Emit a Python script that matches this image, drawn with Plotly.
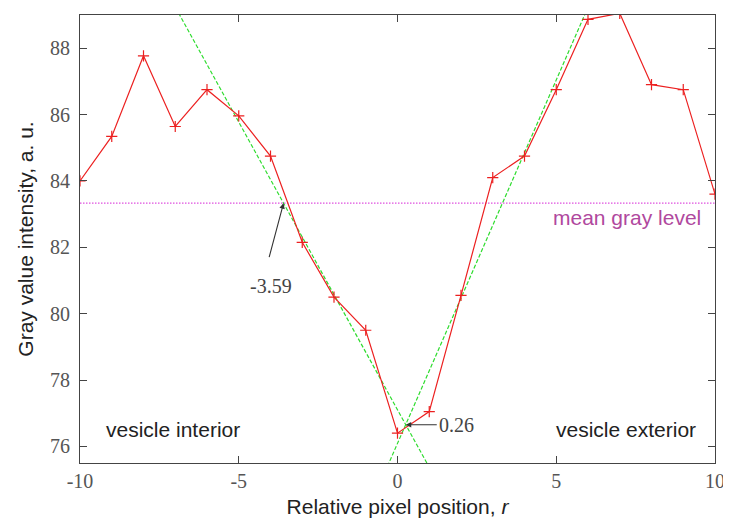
import plotly.graph_objects as go

# data
r_pos = [-10, -9, -8, -7, -6, -5, -4, -3, -2, -1, 0, 1, 2, 3, 4, 5, 6, 7, 8, 9, 10]
gray = [84.0, 85.34, 87.77, 85.64, 86.75, 85.96, 84.75, 82.15, 80.5, 79.5, 76.4,
        77.05, 80.55, 84.1, 84.75, 86.75, 88.87, 89.05, 86.9, 86.75, 83.6]
mean_gray = 83.33
fit_left = (-1.734, 77.105)   # slope, intercept
fit_right = (2.19, 76.091)
x_ticks = [-10, -5, 0, 5, 10]
y_ticks = [76, 78, 80, 82, 84, 86, 88]
cross_left = -3.59
cross_center = 0.26

fig = go.Figure()

# fit lines
for slope, icpt in (fit_left, fit_right):
    xs = [-10, 10]
    fig.add_trace(go.Scatter(x=xs, y=[slope * x + icpt for x in xs], mode="lines",
                             line=dict(color="#2edc2e", width=1.2, dash="4px,2px"),
                             showlegend=False, hoverinfo="skip"))

# mean line
fig.add_trace(go.Scatter(x=[-10, 10], y=[mean_gray, mean_gray], mode="lines",
                         line=dict(color="#e050e0", width=1.4, dash="1.5px,1.5px"),
                         showlegend=False))

# data
fig.add_trace(go.Scatter(x=r_pos, y=gray, mode="lines+markers",
                         line=dict(color="#ec2020", width=1.2),
                         marker=dict(symbol="cross-thin", size=8,
                                     line=dict(color="#ec2020", width=1.2)),
                         showlegend=False))

serif = "Liberation Serif, DejaVu Serif, serif"
sans = "Liberation Sans, Arial, sans-serif"

y_center = fit_left[0] * cross_center + fit_left[1]

# -3.59 arrow and label
fig.add_annotation(x=cross_left, y=mean_gray, text=" ", showarrow=True,
                   arrowhead=2, arrowsize=1, arrowwidth=1.1, arrowcolor="#333",
                   ax=-17, ay=64)
fig.add_annotation(x=cross_left, y=mean_gray, text="-3.59", showarrow=False,
                   xshift=-13, yshift=-83,
                   font=dict(family=serif, size=20, color="#444"))
# 0.26 arrow and label
fig.add_annotation(x=cross_center, y=y_center, text="0.26", showarrow=True,
                   arrowhead=2, arrowsize=1, arrowwidth=1.1, arrowcolor="#333",
                   ax=31, ay=0, xanchor="left",
                   font=dict(family=serif, size=20, color="#444"))

fig.add_annotation(x=-10, y=76.5, text="vesicle interior",
                   showarrow=False, xanchor="left", xshift=24,
                   font=dict(family=sans, size=21, color="#222"))
fig.add_annotation(x=10, y=76.5, text="vesicle exterior",
                   showarrow=False, xanchor="right", xshift=-17,
                   font=dict(family=sans, size=21, color="#222"))
fig.add_annotation(x=10, y=mean_gray, text="mean gray level",
                   showarrow=False, xanchor="right", yanchor="top", xshift=-12, yshift=-1,
                   font=dict(family=sans, size=21, color="#b0489e"))

axis_common = dict(showline=True, linecolor="#444", linewidth=1.2, mirror="ticks",
                   ticks="inside", ticklen=7, tickcolor="#444", showgrid=False,
                   zeroline=False, automargin=False,
                   tickfont=dict(family=serif, size=20, color="#555"))

fig.update_xaxes(range=[-10, 10], tickvals=x_ticks, ticktext=[str(v) for v in x_ticks],
                 title=dict(text="Relative pixel position, <i>r</i>",
                            font=dict(family=sans, size=21, color="#222"), standoff=8),
                 **axis_common)
fig.update_yaxes(range=[75.5, 89], tickvals=y_ticks, ticktext=[str(v) for v in y_ticks],
                 ticklabelstandoff=5,
                 title=dict(text="Gray value intensity, a. u.",
                            font=dict(family=sans, size=21, color="#222"), standoff=10),
                 **axis_common)

# page body adds an 8px offset, so the figure is sized/margined to compensate
fig.update_layout(width=723, height=512, plot_bgcolor="white", paper_bgcolor="white",
                  margin=dict(l=72, r=16, t=7, b=57))

fig.write_html("out.html")
